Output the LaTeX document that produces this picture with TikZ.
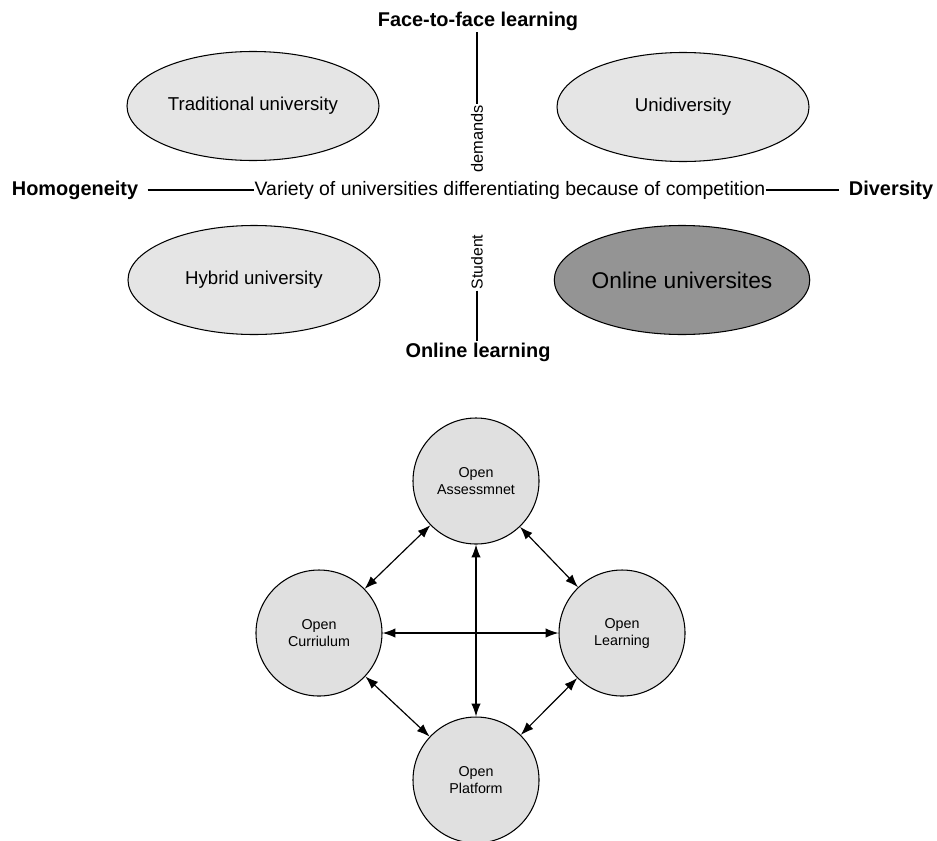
\documentclass[tikz,border=0pt]{standalone}
\usepackage{fontspec}
\setmainfont{Liberation Sans}
\usetikzlibrary{arrows.meta,positioning,shapes.geometric}

\begin{document}
\begin{tikzpicture}[x=0.03cm,y=-0.03cm,>={Latex[length=11pt,width=8pt]},node distance=4cm,on grid,
    uni/.style={ellipse,draw,line width=0.9pt,fill=black!10,inner sep=0pt,minimum width=7.56cm,minimum height=3.27cm,font=\fontsize{15.9}{19}\selectfont},
    axis/.style={font=\bfseries\fontsize{17}{20}\selectfont,inner sep=1pt},
    open/.style={circle,draw,line width=0.9pt,fill=black!12,minimum size=3.78cm,align=center,font=\fontsize{12.2}{14.5}\selectfont}]
  \useasboundingbox (0,0) rectangle (937,840);

  % quadrant of universities
  \node[uni]          (trad) at (253,106) {Traditional university};
  \node[uni]          (unid) at (683,107) {Unidiversity};
  \node[uni]          (hyb)  at (254,280) {Hybrid university};
  \node[uni,fill=black!42,font=\fontsize{19.4}{23}\selectfont] (onl) at (682,280) {Online universites};

  \node[axis]                 (ftf)   at (478,21)  {Face-to-face learning};
  \node[axis]                 (onlrn) at (478,352) {Online learning};
  \node[axis,inner xsep=8pt]  (homo)  at (75,190)  {Homogeneity};
  \node[axis,inner xsep=8pt]  (divr)  at (891,190) {Diversity};
  \node[inner sep=0pt,font=\fontsize{16.6}{20}\selectfont] (var) at (510,190) {Variety of universities differentiating because of competition};
  \node[rotate=90,inner sep=1pt,font=\fontsize{14}{17}\selectfont]   (dem) at (477,139) {demands};
  \node[rotate=90,inner sep=1pt,font=\fontsize{13.5}{16}\selectfont] (stu) at (477,262) {Student};

  \draw[line width=0.9pt] (dem.east) -- (dem.east |- ftf.south);
  \draw[line width=0.9pt] (stu.west) -- (stu.west |- onlrn.north);
  \draw[line width=0.9pt] (homo) -- (var);
  \draw[line width=0.9pt] (var) -- (divr);

  % open education
  \node[open] (asmt) at (476,481)                            {Open\\Assessmnet};
  \node[open] (curr) [below left=4.56cm and 4.71cm of asmt]  {Open\\Curriulum};
  \node[open] (lrn)  [below right=4.56cm and 4.38cm of asmt] {Open\\Learning};
  \node[open] (plat) [below=8.97cm of asmt]                  {Open\\Platform};

  \tikzset{link/.style={<->,line width=1pt}}
  \path (asmt) edge [link] (curr)
        (asmt) edge [link] (lrn)
        (asmt) edge [link] (plat)
        (curr) edge [link] (lrn)
        (curr) edge [link] (plat)
        (lrn)  edge [link] (plat);
\end{tikzpicture}
\end{document}
